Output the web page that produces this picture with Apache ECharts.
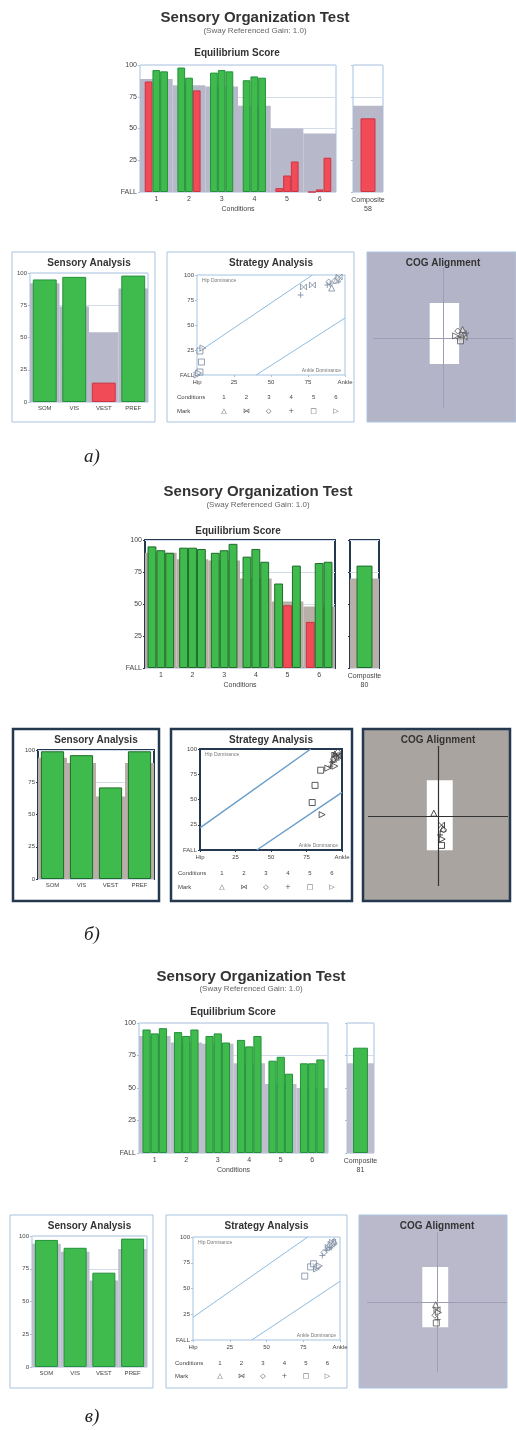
<!DOCTYPE html>
<html>
<head>
<meta charset="utf-8">
<script src="https://cdn.jsdelivr.net/npm/echarts/dist/echarts.min.js"></script>
<style>
html, body { margin: 0; padding: 0; background: #fff; }
#chart { width: 516px; height: 1430px; }
</style>
</head>
<body>
<div id="chart"></div>
<script>
// shared categories and tick labels
var conditions = ['1', '2', '3', '4', '5', '6'];
var sensoryCats = ['SOM', 'VIS', 'VEST', 'PREF'];
var eqTickLabels = ['FALL', '25', '50', '75', '100'];
var stratTickLabels = ['Hip', '25', '50', '75', 'Ankle'];
var markGlyphs = ['△', '⋈', '◇', '+', '□', '▷'];
var strategyUpper = [[0, 22], [78, 100]];
var strategyLower = [[40, 0], [100, 57]];

// а)
var aTrial1 = [87, 98, 94, 88, 3, 0];
var aTrial2 = [96, 90, 96, 91, 13, 2];
var aTrial3 = [95, 80, 95, 90, 24, 27];
var aNorm = [89, 84, 83, 68, 50, 46];
var aComposite = [58];
var aCompositeNorm = [68];
var aSensory = [95, 97, 15, 98];
var aSensoryNorm = [92, 74, 54, 88];
var aStrategy = [[91, 87, 1], [95, 96, 1], [94, 95, 1], [96, 98, 2], [78, 90, 2], [72, 88, 2],
    [93, 94, 3], [95, 97, 3], [89, 93, 3], [70, 80, 4], [90, 91, 4], [88, 90, 4],
    [2, 3, 5], [3, 13, 5], [2, 24, 5], [0, 0, 6], [1, 2, 6], [4, 27, 6]];
var aCog = [[2.6, 0.6, 1], [3.0, 0.1, 2], [2.1, 1.0, 3], [3.3, 0.7, 4], [2.5, -0.4, 5], [1.8, 0.3, 6], [2.8, 1.2, 1], [2.3, -0.1, 4]];
var aCogZone = [[-1.9, -3.7], [2.3, 5]];

// б)
var bTrial1 = [95, 94, 90, 87, 66, 36];
var bTrial2 = [92, 94, 92, 93, 49, 82];
var bTrial3 = [90, 93, 97, 83, 80, 83];
var bNorm = [90, 85, 84, 70, 52, 48];
var bComposite = [80];
var bCompositeNorm = [70];
var bSensory = [99, 96, 71, 99];
var bSensoryNorm = [94, 90, 64, 90];
var bStrategy = [[95, 95, 1], [96, 92, 1], [94, 90, 1], [95, 94, 2], [96, 94, 2], [97, 93, 2],
    [94, 90, 3], [96, 92, 3], [97, 97, 3], [93, 87, 4], [96, 93, 4], [92, 83, 4],
    [81, 64, 5], [79, 47, 5], [85, 79, 5], [86, 35, 6], [90, 81, 6], [95, 83, 6]];
var bCog = [[-0.6, 0.4, 1], [0.5, -1.3, 2], [0.8, -2.0, 3], [0.3, -2.7, 4], [0.6, -3.3, 6], [0.5, -4.2, 5], [0.7, -1.8, 1]];
var bCogZone = [[-1.6, -4.9], [2.1, 5.1]];

// в)
var cTrial1 = [95, 93, 90, 87, 71, 69];
var cTrial2 = [92, 90, 92, 82, 74, 69];
var cTrial3 = [96, 95, 85, 90, 61, 72];
var cNorm = [90, 85, 84, 69, 53, 50];
var cComposite = [81];
var cCompositeNorm = [69];
var cSensory = [97, 91, 72, 98];
var cSensoryNorm = [94, 88, 66, 90];
var cStrategy = [[95, 95, 1], [93, 92, 1], [96, 96, 1], [94, 93, 2], [92, 90, 2], [95, 95, 2],
    [92, 90, 3], [93, 92, 3], [89, 85, 3], [91, 87, 4], [88, 82, 4], [93, 90, 4],
    [80, 71, 5], [82, 74, 5], [76, 62, 5], [84, 69, 6], [85, 71, 6], [86, 72, 6]];
var cCog = [[-0.2, -0.4, 1], [0, -1.1, 2], [-0.3, -1.9, 3], [0.1, -2.5, 4], [-0.1, -3.0, 5], [0.2, -1.5, 6]];
var cCogZone = [[-2.1, -3.6], [1.6, 5]];

var FONT = '"Liberation Sans", Arial, sans-serif';
var markSymbols = ['triangle', 'path://M0,0L10,10L10,0L0,10Z', 'diamond', 'path://M5,0L5,10M0,5L10,5', 'rect', 'triangle'];
var markRotate = [0, 0, 0, 0, 0, -90];

var option = {
    animation: false,
    backgroundColor: '#ffffff',
    textStyle: { fontFamily: FONT },
    grid: [], xAxis: [], yAxis: [], series: [],
    graphic: { elements: [] }
};

function txt(x, y, s, font, fill, align) {
    option.graphic.elements.push({
        type: 'text', x: x, y: y, z: 10, silent: true,
        style: { text: s, font: font, fill: fill, textAlign: align || 'center', textVerticalAlign: 'middle' }
    });
}

function box(b, fill, stroke, lw) {
    option.graphic.elements.push({
        type: 'rect', z: 0, silent: true,
        shape: { x: b[0], y: b[1], width: b[2], height: b[3] },
        style: { fill: fill, stroke: stroke, lineWidth: lw }
    });
}

function addAxes(gridCfg, xCfgs, yCfg) {
    var gi = option.grid.push(gridCfg) - 1;
    var xi = option.xAxis.length;
    xCfgs.forEach(function (x) { x.gridIndex = gi; option.xAxis.push(x); });
    yCfg.gridIndex = gi;
    var yi = option.yAxis.push(yCfg) - 1;
    return { x: xi, y: yi };
}

function scoreItems(vals, norms, C) {
    return vals.map(function (v, i) {
        var low = v < norms[i];
        return { value: v, itemStyle: { color: low ? C.red : C.green, borderColor: low ? C.redEdge : C.greenEdge, borderWidth: 1 } };
    });
}

function gridOf(r, C, bg) {
    return { left: r[0], top: r[1], width: r[2], height: r[3], show: true, backgroundColor: bg || 'transparent', borderColor: C.frame, borderWidth: C.frameW };
}

function scoreAxisY(C, fs, labels, showLabels) {
    return {
        type: 'value', min: 0, max: 100, interval: 25,
        axisLine: { show: false },
        axisTick: { show: true, length: 2, lineStyle: { color: C.frame } },
        axisLabel: { show: showLabels, fontSize: fs, color: '#444', margin: 3,
            formatter: function (v) { return labels ? labels[v / 25] : String(v); } },
        splitLine: { show: true, lineStyle: { color: C.split } }
    };
}

function markSeries(ax, pts, color, size) {
    for (var c = 0; c < 6; c++) {
        var pts_c = pts.filter(function (p) { return p[2] === c + 1; }).map(function (p) { return [p[0], p[1]]; });
        option.series.push({
            type: 'scatter', xAxisIndex: ax.x, yAxisIndex: ax.y, data: pts_c, z: 5,
            symbol: markSymbols[c], symbolRotate: markRotate[c], symbolSize: size,
            itemStyle: { color: 'rgba(255,255,255,0.6)', borderColor: color, borderWidth: 1 }
        });
    }
}

function buildPanel(L, D, C) {
    // headings
    txt(L.head[0], L.head[1], 'Sensory Organization Test', 'bold 15px ' + FONT, '#333');
    txt(L.head[0], L.head[2], '(Sway Referenced Gain: 1.0)', '8px ' + FONT, '#666');
    txt(L.eqTitle[0], L.eqTitle[1], 'Equilibrium Score', 'bold 10px ' + FONT, '#333');
    txt(L.label[0], L.label[1], L.label[2], 'italic 19px "Liberation Serif", serif', '#222');

    // equilibrium score
    var ax = addAxes(gridOf(L.eq, C, '#fff'), [
        { type: 'category', data: conditions, name: 'Conditions', nameLocation: 'middle', nameGap: 14,
          nameTextStyle: { fontSize: 7, color: '#444' }, axisLine: { show: false }, axisTick: { show: false },
          axisLabel: { fontSize: 7, color: '#444', margin: 4 } },
        { type: 'category', data: conditions, show: false }
    ], scoreAxisY(C, 7, eqTickLabels, true));
    option.series.push({ type: 'bar', xAxisIndex: ax.x + 1, yAxisIndex: ax.y, data: D.norm, barWidth: '100%', itemStyle: { color: C.band }, z: 1, silent: true });
    D.trials.forEach(function (t) {
        option.series.push({ type: 'bar', xAxisIndex: ax.x, yAxisIndex: ax.y, data: scoreItems(t, D.norm, C), barGap: '0%', barCategoryGap: L.eqGap, z: 3 });
    });

    // composite
    ax = addAxes(gridOf(L.comp, C, '#fff'), [
        { type: 'category', data: ['Composite'], axisLine: { show: false }, axisTick: { show: false },
          axisLabel: { fontSize: 7, color: '#444', margin: 4, lineHeight: 9,
              formatter: function (v) { return v + '\n' + D.comp[0]; } } },
        { type: 'category', data: ['Composite'], show: false }
    ], scoreAxisY(C, 7, eqTickLabels, false));
    option.series.push({ type: 'bar', xAxisIndex: ax.x + 1, yAxisIndex: ax.y, data: D.compNorm, barWidth: '100%', itemStyle: { color: C.band }, z: 1, silent: true });
    option.series.push({ type: 'bar', xAxisIndex: ax.x, yAxisIndex: ax.y, data: scoreItems(D.comp, D.compNorm, C), barCategoryGap: L.compGap, z: 3 });

    // sensory analysis
    box(L.sensBox, 'none', C.box, C.boxW);
    txt(L.sens[0] + L.sens[2] / 2, L.sensBox[1] + 11, 'Sensory Analysis', 'bold 10px ' + FONT, '#333');
    ax = addAxes(gridOf(L.sens, C, '#fff'), [
        { type: 'category', data: sensoryCats, axisLine: { show: false }, axisTick: { show: false },
          axisLabel: { fontSize: 6, color: '#444', margin: 3 } },
        { type: 'category', data: sensoryCats, show: false }
    ], scoreAxisY(C, 6, null, true));
    option.series.push({ type: 'bar', xAxisIndex: ax.x + 1, yAxisIndex: ax.y, data: D.sensNorm, barWidth: '100%', itemStyle: { color: C.band }, z: 1, silent: true });
    option.series.push({ type: 'bar', xAxisIndex: ax.x, yAxisIndex: ax.y, data: scoreItems(D.sens, D.sensNorm, C), barCategoryGap: L.sensGap, z: 3 });

    // strategy analysis
    box(L.stratBox, 'none', C.box, C.boxW);
    txt(L.strat[0] + L.strat[2] / 2, L.stratBox[1] + 11, 'Strategy Analysis', 'bold 10px ' + FONT, '#333');
    ax = addAxes(gridOf(L.strat, C, '#fff'), [
        { type: 'value', min: 0, max: 100, interval: 25, splitLine: { show: false }, axisLine: { show: false },
          axisTick: { show: true, length: 2, lineStyle: { color: C.frame } },
          axisLabel: { fontSize: 6, color: '#444', margin: 4, formatter: function (v) { return stratTickLabels[v / 25]; } } }
    ], {
        type: 'value', min: 0, max: 100, interval: 25, splitLine: { show: false }, axisLine: { show: false },
        axisTick: { show: true, length: 2, lineStyle: { color: C.frame } },
        axisLabel: { fontSize: 6, color: '#444', margin: 3, formatter: function (v) { return eqTickLabels[v / 25]; } }
    });
    [strategyUpper, strategyLower].forEach(function (ln) {
        option.series.push({ type: 'line', xAxisIndex: ax.x, yAxisIndex: ax.y, data: ln, symbol: 'none', silent: true, z: 2,
            lineStyle: { color: C.diag, width: C.diagW } });
    });
    markSeries(ax, D.strat, C.mark, 6);
    txt(L.strat[0] + 5, L.strat[1] + 6, 'Hip Dominance', '5px ' + FONT, '#777', 'left');
    txt(L.strat[0] + L.strat[2] - 4, L.strat[1] + L.strat[3] - 4, 'Ankle Dominance', '5px ' + FONT, '#777', 'right');
    txt(L.rows[0], L.rows[1], 'Conditions', '6px ' + FONT, '#444', 'left');
    txt(L.rows[0], L.rows[2], 'Mark', '6px ' + FONT, '#444', 'left');
    for (var i = 0; i < 6; i++) {
        txt(L.rows[3] + i * L.rows[4], L.rows[1], conditions[i], '6px ' + FONT, '#444');
        txt(L.rows[3] + i * L.rows[4], L.rows[2], markGlyphs[i], '7px "DejaVu Sans"', '#555');
    }

    // COG alignment
    box(L.cogBox, C.cog, C.box, C.boxW);
    txt(L.cog[0], L.cogBox[1] + 11, 'COG Alignment', 'bold 10px ' + FONT, '#333');
    ax = addAxes({ left: L.cog[0] - 70, top: L.cog[1] - 70, width: 140, height: 140 }, [
        { type: 'value', min: -10, max: 10, show: false }
    ], { type: 'value', min: -10, max: 10, show: false });
    option.series.push({ type: 'scatter', xAxisIndex: ax.x, yAxisIndex: ax.y, data: [], z: 1, silent: true,
        markLine: { silent: true, symbol: 'none', label: { show: false },
            lineStyle: { color: C.cogLine, width: C.cogLineW, type: 'solid' },
            data: [{ xAxis: 0 }, { yAxis: 0 }] } });
    option.series.push({ type: 'scatter', xAxisIndex: ax.x, yAxisIndex: ax.y, data: [], z: 2, silent: true,
        markArea: { silent: true, itemStyle: { color: '#fff' },
            data: [[{ coord: D.cogZone[0] }, { coord: D.cogZone[1] }]] } });
    markSeries(ax, D.cog, C.cogMark, 6);
}

var lightStyle = {
    green: '#3fbb4d', greenEdge: '#23913a', red: '#f24b58', redEdge: '#cc3444',
    frame: '#a3c3e2', frameW: 1, split: '#d3dcea', box: '#a9c4e0', boxW: 1,
    diag: '#8dbbe0', diagW: 1, mark: '#7a8ba0', cogLine: '#9d9db5', cogLineW: 1, cogMark: '#555'
};
function styleWith(extra) {
    var s = {};
    for (var k in lightStyle) s[k] = lightStyle[k];
    for (var k2 in extra) s[k2] = extra[k2];
    return s;
}

buildPanel({
    head: [255, 18, 31], eqTitle: [237, 53], label: [92, 457, 'а)'],
    eq: [140, 65, 196, 127], eqGap: '29%',
    comp: [353, 65, 30, 127], compGap: '50%',
    sensBox: [12, 252, 143, 170], sens: [30, 273, 118, 129], sensGap: '19%',
    stratBox: [167, 252, 187, 170], strat: [197, 275, 148, 100], rows: [177, 397, 411, 224, 22.4],
    cogBox: [367, 252, 149, 170], cog: [443, 338]
}, {
    trials: [aTrial1, aTrial2, aTrial3], norm: aNorm, comp: aComposite, compNorm: aCompositeNorm,
    sens: aSensory, sensNorm: aSensoryNorm, strat: aStrategy, cog: aCog, cogZone: aCogZone
}, styleWith({ band: '#b8b8cb', cog: '#b4b4c8' }));

buildPanel({
    head: [258, 492, 505], eqTitle: [238, 531], label: [92, 935, 'б)'],
    eq: [145, 540, 190, 128], eqGap: '16%',
    comp: [350, 540, 29, 128], compGap: '45%',
    sensBox: [13, 729, 146, 172], sens: [38, 750, 116, 129], sensGap: '20%',
    stratBox: [171, 729, 181, 172], strat: [200, 749, 142, 101], rows: [178, 873, 887, 222, 22],
    cogBox: [363, 729, 147, 172], cog: [438, 816]
}, {
    trials: [bTrial1, bTrial2, bTrial3], norm: bNorm, comp: bComposite, compNorm: bCompositeNorm,
    sens: bSensory, sensNorm: bSensoryNorm, strat: bStrategy, cog: bCog, cogZone: bCogZone
}, styleWith({
    band: '#b9aea8', cog: '#aaa4a0', frame: '#24384f', frameW: 2, box: '#24384f', boxW: 2.5,
    greenEdge: '#1f6c2a', diag: '#6a9dc8', diagW: 1.5, mark: '#333', cogLine: '#333', cogLineW: 1.2, cogMark: '#222'
}));

buildPanel({
    head: [251, 977, 989], eqTitle: [233, 1012], label: [92, 1417, 'в)'],
    eq: [139, 1023, 189, 130], eqGap: '22%',
    comp: [347, 1023, 27, 130], compGap: '45%',
    sensBox: [10, 1215, 143, 173], sens: [32, 1236, 115, 131], sensGap: '20%',
    stratBox: [166, 1215, 181, 173], strat: [193, 1237, 147, 103], rows: [175, 1363, 1376, 220, 21.5],
    cogBox: [359, 1215, 148, 173], cog: [437, 1302]
}, {
    trials: [cTrial1, cTrial2, cTrial3], norm: cNorm, comp: cComposite, compNorm: cCompositeNorm,
    sens: cSensory, sensNorm: cSensoryNorm, strat: cStrategy, cog: cCog, cogZone: cCogZone
}, styleWith({ band: '#bebece', cog: '#b9b9cb' }));

var chart = echarts.init(document.getElementById('chart'));
chart.setOption(option);
</script>
</body>
</html>
